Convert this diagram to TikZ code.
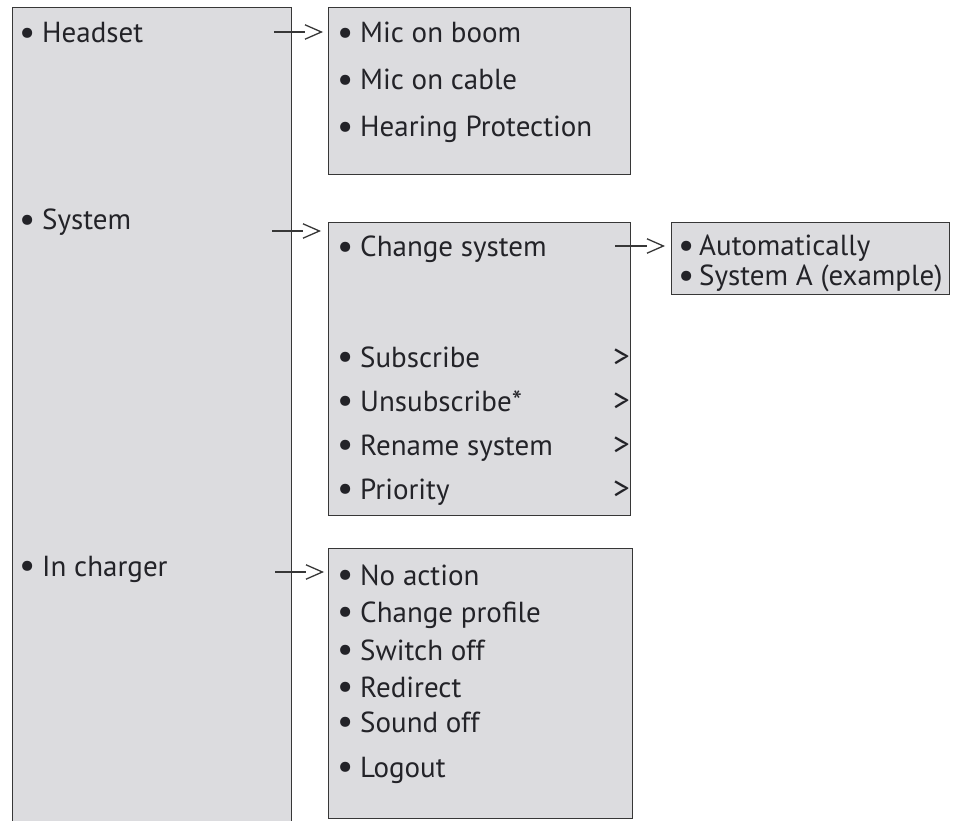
\documentclass[tikz,border=0pt]{standalone}
\usepackage{fontspec}
\setmainfont{PT Sans}
\definecolor{boxfill}{RGB}{220,220,223}
\definecolor{boxline}{RGB}{55,55,55}
\definecolor{txt}{RGB}{35,35,40}
\begin{document}
\begin{tikzpicture}[x=1pt,y=-1pt,
  box/.style={draw=boxline, fill=boxfill, line width=1.4pt, rectangle, anchor=north west, inner sep=0pt},
  item/.style={anchor=base west, inner sep=0pt, text=txt, font=\fontsize{29}{32}\selectfont},
  more/.style={anchor=base east, inner sep=0pt, text=txt, font=\fontsize{33}{33}\selectfont},
  chev/.style={inner sep=0pt, minimum width=16pt, minimum height=14pt, anchor=west},
  conn/.style={draw=boxline, line width=1.2pt},
  chevline/.style={draw=boxline, line width=1.3pt, line join=miter}]
\useasboundingbox (0,0) rectangle (954,821);
\clip (0,0) rectangle (954,821);
\newcommand{\bulmark}{\smash{\raisebox{-1.5pt}{\fontsize{36}{36}\selectfont •}}}
\newcommand{\bul}[1]{\makebox[23pt][l]{\bulmark}#1}
% boxes
\node[box, minimum width=279pt, minimum height=850pt] (main) at (12,7) {};
\node[box, minimum width=302pt, minimum height=167pt] (hbox) at (328,7) {};
\node[box, minimum width=302pt, minimum height=293pt] (sbox) at (328,222) {};
\node[box, minimum width=278pt, minimum height=72pt] (abox) at (671,222) {};
\node[box, minimum width=304pt, minimum height=270pt] (cbox) at (328,548) {};
% main items
\node[item] (headset) at (19,43) {\bul{Headset}};
\node[item] (system) at (19,230) {\bul{System}};
\node[item] (charger) at (19,576) {\bul{In charger}};
% headset box
\node[item] (h1) at (337,43) {\bul{Mic on boom}};
\node[item] (h2) at (337,90) {\bul{Mic on cable}};
\node[item] (h3) at (337,137) {\bul{Hearing Protection}};
% system box
\node[item] (s1) at (337,257) {\bul{Change system}};
\node[item] (s2) at (337,367) {\bul{Subscribe}};
\node[item] (s3) at (337,411) {\bul{Unsubscribe*}};
\node[item] (s4) at (337,455) {\bul{Rename system}};
\node[item] (s5) at (337,499) {\bul{Priority}};
\node[more] (m2) at (630,367) {>};
\node[more] (m3) at (630,411) {>};
\node[more] (m4) at (630,455) {>};
\node[more] (m5) at (630,499) {>};
% auto box (anchor is the baseline of the last line)
\node[item, align=left, font=\fontsize{29}{30}\selectfont] (a1) at (678,286)
  {\makebox[21pt][l]{\bulmark}Automatically\\\makebox[21pt][l]{\bulmark}System A (example)};
% charger box
\node[item] (c1) at (337,585) {\bul{No action}};
\node[item] (c2) at (337,622) {\bul{Change profile}};
\node[item] (c3) at (337,660) {\bul{Switch off}};
\node[item] (c4) at (337,697) {\bul{Redirect}};
\node[item] (c5) at (337,732) {\bul{Sound off}};
\node[item] (c6) at (337,777) {\bul{Logout}};
% connectors
\coordinate (hs) at (274,32);
\node[chev] (hc) at (305,32) {};
\draw[conn] (hs) -- (hc.west);
\draw[chevline] (hc.north west) -- (hc.east) -- (hc.south west);
\coordinate (ss) at (272,231);
\node[chev] (sc) at (303,231) {};
\draw[conn] (ss) -- (sc.west);
\draw[chevline] (sc.north west) -- (sc.east) -- (sc.south west);
\coordinate (cs) at (275,572);
\node[chev] (cc) at (306,572) {};
\draw[conn] (cs) -- (cc.west);
\draw[chevline] (cc.north west) -- (cc.east) -- (cc.south west);
\coordinate (as) at (615,246);
\node[chev] (ac) at (647,246) {};
\draw[conn] (as) -- (ac.west);
\draw[chevline] (ac.north west) -- (ac.east) -- (ac.south west);
\end{tikzpicture}
\end{document}
